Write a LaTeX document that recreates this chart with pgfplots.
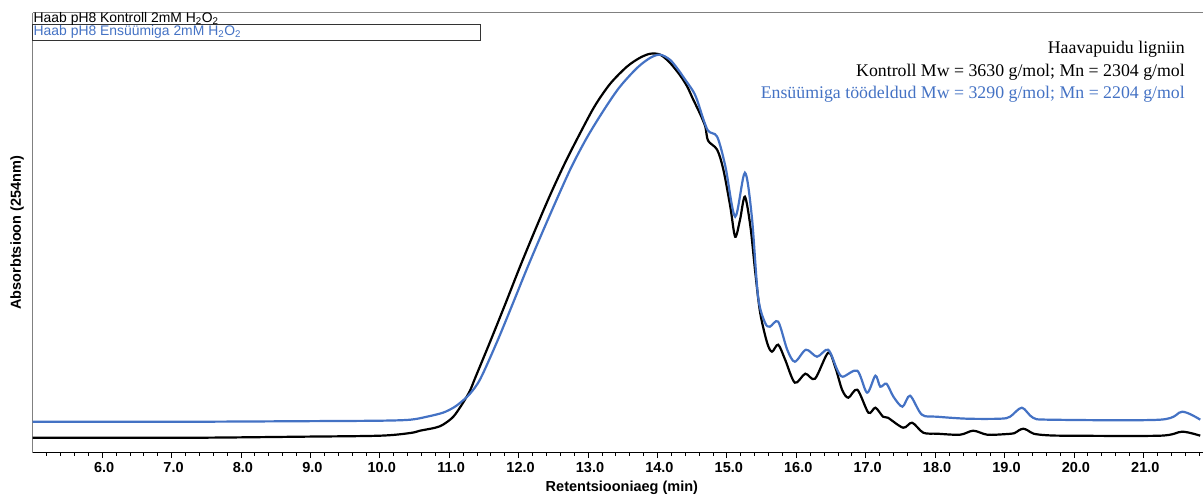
\documentclass[border=0pt]{standalone}
\usepackage{pgfplots}
\pgfplotsset{compat=1.18}
\usepackage{fontspec}
\setmainfont{Liberation Sans}
\newfontfamily\timesfont{Liberation Serif}
\definecolor{ensblue}{HTML}{4472C4}

\pgfplotstableread{
t y
5.00 15
6.00 15
7.41 15
8.85 16
10.00 17
10.44 19.7
10.58 22
10.80 25
10.91 28
11.06 36
11.20 50
11.30 62
11.37 74
11.59 111
11.81 149
12.02 186
12.24 223
12.45 257
12.67 290
12.89 320
13.10 347
13.32 369
13.56 386
13.75 395
13.90 399
14.04 398
14.18 390
14.33 377
14.43 366
14.51 354
14.62 338
14.69 326
14.73 312
14.86 303
14.95 283
15.05 246
15.12 216
15.19 233
15.26 256
15.34 226
15.41 180
15.48 140
15.58 110
15.65 101
15.74 108
15.84 93
15.98 70
16.13 79
16.27 74
16.46 100
16.56 86
16.66 63
16.75 55
16.88 63
17.04 40
17.14 45
17.25 36
17.32 35
17.54 25
17.67 30
17.83 20
18.03 19
18.36 18
18.55 22
18.75 18
19.00 18.5
19.14 19.5
19.21 22.5
19.27 24
19.33 22.5
19.42 19
19.60 17.5
19.90 17
21.24 17
21.56 21
21.82 17
}\kontroll

\pgfplotstableread{
t y
5.00 31
6.00 31
7.41 31
8.85 31.5
10.00 32
10.44 33
10.68 36
10.91 40
11.06 45
11.16 50
11.30 59
11.45 74
11.69 111
11.91 148
12.12 184
12.34 220
12.56 255
12.77 287
13.00 317
13.25 345
13.46 366
13.71 385
13.90 395
14.04 398
14.18 393
14.30 383
14.40 373
14.51 362
14.57 353
14.72 323
14.86 316
14.98 286
15.12 236
15.26 280
15.36 236
15.45 156
15.55 130
15.62 126
15.74 131
15.87 103
15.98 91
16.14 103
16.30 96
16.46 103
16.59 83
16.67 76
16.88 82
17.02 60
17.14 77
17.21 66
17.30 69
17.40 56
17.53 46
17.64 57
17.81 38
18.03 36
18.46 34
18.94 34
19.08 36
19.25 45
19.41 35
19.66 33
21.24 33
21.56 41
21.82 33
}\ensyym

\begin{document}
\begin{tikzpicture}[x=1pt,y=1pt]
\useasboundingbox (0,0) rectangle (1203,496);
\begin{axis}[
  at={(32.7pt,43.3pt)}, anchor=south west,
  scale only axis, width=1170.3pt, height=440pt,
  xmin=5.0, xmax=21.86, ymin=0, ymax=440,
  axis x line=bottom, axis y line=left,
  axis line style={-}, x axis line style={black, line width=0.8pt},
  y axis line style={gray, line width=0.8pt},
  xtick={6,...,21}, minor xtick={5.2,5.4,...,21.8}, ytick=\empty,
  tick align=outside, major tick length=5.5pt, minor tick length=3pt,
  every tick/.style={black, line width=0.7pt},
  /pgf/number format/fixed, /pgf/number format/fixed zerofill,
  /pgf/number format/precision=1, /pgf/number format/assume math mode=true,
  xticklabel style={font=\fontsize{14.5}{16}\selectfont\bfseries, yshift=-0.5pt, xshift=2pt},
  xlabel={Retentsiooniaeg (min)}, ylabel={Absorbtsioon (254nm)},
  label style={font=\fontsize{14.5}{16}\selectfont\bfseries},
  xlabel style={at={(rel axis cs:0.5,0)}, anchor=center, yshift=-35.5pt, xshift=4pt},
  ylabel style={at={(axis description cs:-0.0134,0.5)}, anchor=center},
  clip mode=individual,
]
\addplot[black, line width=2.2pt, smooth] table[x=t, y=y] {\kontroll};
\addplot[ensblue, line width=2.2pt, smooth] table[x=t, y=y] {\ensyym};
\end{axis}
% top frame line
\draw[gray, line width=0.8pt] (32.7,483.3) -- (1203,483.3);
% legend
\draw[black!80, line width=0.6pt] (32.7,472) rectangle (480,456);
\node[anchor=west, inner sep=0.5pt, font=\fontsize{13.9}{14}\selectfont] at (33,477.3) {Haab pH8 Kontroll 2mM H\textsubscript{2}O\textsubscript{2}};
\node[anchor=west, inner sep=0.5pt, font=\fontsize{13.9}{14}\selectfont, text=ensblue] at (33,464) {Haab pH8 Ensüümiga 2mM H\textsubscript{2}O\textsubscript{2}};
% annotation
\node[anchor=base east, inner sep=0pt, font=\timesfont\fontsize{17.8}{19}\selectfont] at (1185,442.7) {Haavapuidu ligniin};
\node[anchor=base east, inner sep=0pt, font=\timesfont\fontsize{17.8}{19}\selectfont] at (1185,419.3) {Kontroll Mw = 3630 g/mol; Mn = 2304 g/mol};
\node[anchor=base east, inner sep=0pt, font=\timesfont\fontsize{17.8}{19}\selectfont, text=ensblue] at (1185,397.7) {Ensüümiga töödeldud Mw = 3290 g/mol; Mn = 2204 g/mol};
\end{tikzpicture}
\end{document}
